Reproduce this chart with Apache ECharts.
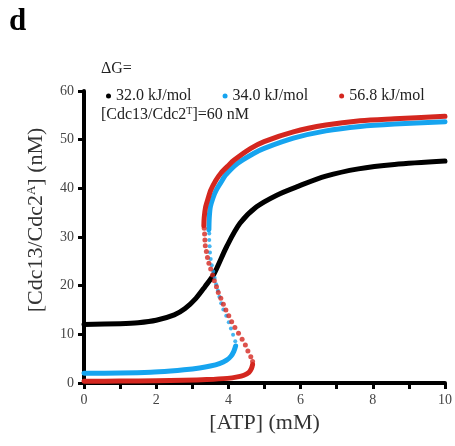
<!DOCTYPE html>
<html style="height:100%;width:100%;">

<head>
  <meta charset="utf-8">
  <title>Cdc13/Cdc2 vs ATP</title>
  <script src="https://cdn.jsdelivr.net/npm/echarts@6/dist/echarts.min.js"></script>
</head>

<body style="margin:0px;height:100%;width:100%;background:#fff;">
  <div id="main" style="width:455px;height:446px"></div>
  <script type="text/javascript" charset="utf-8">
    // legend names (dG values)
    var names = ['32.0 kJ/mol', '34.0 kJ/mol', '56.8 kJ/mol'];
    var colors = ['#000000', '#16a4ef', '#d4271f'];

    // dG = 32.0, single monotone curve  [ATP mM, Cdc13/Cdc2A nM]
    var black32 = [[0, 12.0], [1, 12.2], [1.5, 12.4], [2, 12.9], [2.5, 14.0], [2.8, 15.3], [3.1, 17.4],
      [3.35, 19.8], [3.6, 22.4], [3.95, 28.0], [4.32, 32.8], [4.78, 36.2], [5.34, 38.6],
      [5.89, 40.3], [6.7, 42.5], [7.6, 44.0], [8.6, 44.9], [10, 45.6]];

    // dG = 34.0: low stable, unstable (dots), high stable
    var blueLow = [[0, 2.0], [1, 2.05], [1.85, 2.2], [2.4, 2.45], [2.77, 2.7], [3.2, 3.1], [3.5, 3.5],
      [3.75, 4.0], [3.95, 4.7], [4.07, 5.5], [4.15, 6.5], [4.2, 7.6]];
    var blueMid = [[4.19, 8.6], [4.13, 9.9], [4.07, 11.2], [4.01, 12.5], [3.94, 13.8], [3.86, 15.1],
      [3.80, 16.4], [3.75, 17.7], [3.71, 19.0], [3.66, 20.3], [3.62, 21.6], [3.58, 22.9],
      [3.54, 24.2], [3.51, 25.5], [3.49, 26.8], [3.48, 28.1], [3.47, 29.4], [3.47, 30.7]];
    var blueHigh = [[3.46, 31.5], [3.47, 34.0], [3.50, 36.2], [3.57, 38.0], [3.66, 39.6], [3.8, 41.3],
      [3.92, 42.7], [4.25, 45.1], [4.71, 47.2], [4.99, 48.2], [5.8, 50.3], [6.7, 51.8],
      [7.65, 52.7], [8.6, 53.2], [10, 53.7]];

    // dG = 56.8: low stable, unstable (dots), high stable
    var redLow = [[0, 0.35], [1, 0.4], [2, 0.45], [2.77, 0.55], [3.4, 0.7], [3.97, 0.95], [4.25, 1.25],
      [4.43, 1.6], [4.57, 2.2], [4.64, 3.0], [4.67, 3.8]];
    var redMid = [[4.67, 4.4], [4.62, 5.4], [4.54, 6.6], [4.47, 7.8], [4.38, 9.0], [4.28, 10.2],
      [4.18, 11.4], [4.09, 12.6], [4.01, 13.8], [3.93, 15.0], [3.86, 16.2], [3.79, 17.4],
      [3.72, 18.6], [3.67, 19.8], [3.61, 21.0], [3.56, 22.2], [3.51, 23.4], [3.46, 24.6],
      [3.42, 25.8], [3.39, 27.0], [3.36, 28.2], [3.35, 29.4], [3.34, 30.6], [3.33, 31.8]];
    var redHigh = [[3.32, 32.3], [3.33, 34.0], [3.37, 36.2], [3.45, 38.2], [3.51, 39.6], [3.65, 41.6],
      [3.79, 43.1], [4.0, 44.7], [4.16, 45.8], [4.62, 48.2], [4.99, 49.6], [5.8, 51.6],
      [6.7, 53.0], [7.65, 53.9], [8.6, 54.3], [10, 54.8]];

    var serif = '"Liberation Serif", "DejaVu Serif", serif';
    var lineW = 5;

    function stable(name, color, data, z) {
      return {
        name: name,
        type: 'line',
        data: data,
        smooth: 0.3,
        showSymbol: false,
        symbol: 'none',
        z: z,
        color: color,
        lineStyle: { color: color, width: lineW, cap: 'round', join: 'round' },
        emphasis: { disabled: true },
        animation: false
      };
    }

    function unstable(name, color, data, size, z) {
      return {
        name: name,
        type: 'scatter',
        data: data,
        symbolSize: size,
        z: z,
        itemStyle: { color: color },
        emphasis: { disabled: true },
        animation: false
      };
    }

    // ticks start at the middle of the axis line, so length = half line + visible part
    var axisLineStyle = { show: true, onZero: false, lineStyle: { color: '#000', width: 4 } };
    var axisTickStyle = { show: true, length: 6, lineStyle: { color: '#000', width: 3 } };

    var myChart = echarts.init(document.getElementById('main'));

    var option = {
      backgroundColor: '#fff',
      animation: false,
      grid: { left: 84, right: 10, top: 91, bottom: 63 },
      legend: {
        data: names,
        left: 101,
        top: 83,
        icon: 'circle',
        itemWidth: 5,
        itemHeight: 5,
        itemGap: 31,
        selectedMode: false,
        textStyle: { fontFamily: serif, fontSize: 16, color: '#222' }
      },
      graphic: [
        { type: 'text', left: 9, top: 6, style: { text: 'd', font: 'bold 31px ' + serif, fill: '#000' } },
        { type: 'text', left: 101, top: 61, style: { text: '\u0394G=', font: '16px ' + serif, fill: '#222' } },
        {
          type: 'text', left: 101, top: 106,
          style: {
            text: '[Cdc13/Cdc2{sup|T}]=60 nM',
            font: '16px ' + serif,
            fill: '#222',
            rich: { sup: { fontSize: 10, fontFamily: serif, fill: '#222', padding: [0, 0, 8, 0] } }
          }
        }
      ],
      xAxis: {
        type: 'value',
        min: 0,
        max: 10,
        interval: 1,
        name: '[ATP] (mM)',
        nameLocation: 'middle',
        nameGap: 27,
        nameTextStyle: { fontFamily: serif, fontSize: 22, color: '#333' },
        axisLine: axisLineStyle,
        axisTick: axisTickStyle,
        axisLabel: {
          fontFamily: serif, fontSize: 14, color: '#444', margin: 10,
          formatter: function (v) { return v % 2 === 0 ? String(v) : ''; }
        },
        splitLine: { show: false }
      },
      yAxis: {
        type: 'value',
        min: 0,
        max: 60,
        interval: 10,
        name: '[Cdc13/Cdc2{sup|A}] (nM)',
        nameLocation: 'middle',
        nameGap: 36,
        nameTextStyle: {
          fontFamily: serif, fontSize: 22, color: '#333',
          padding: [0, 0, 0, 34],
          rich: { sup: { fontFamily: serif, fontSize: 13, color: '#333', padding: [0, 0, 10, 0] } }
        },
        axisLine: axisLineStyle,
        axisTick: axisTickStyle,
        axisLabel: { fontFamily: serif, fontSize: 14, color: '#444', margin: 10 },
        splitLine: { show: false }
      },
      series: [
        stable(names[0], colors[0], black32, 2),
        stable(names[1], colors[1], blueLow, 3),
        unstable(names[1], colors[1], blueMid, 4, 3),
        stable(names[1], colors[1], blueHigh, 3),
        stable(names[2], colors[2], redLow, 4),
        unstable(names[2], colors[2], redMid, 5, 4),
        stable(names[2], colors[2], redHigh, 4)
      ]
    };

    myChart.setOption(option, true);
  </script>
</body>

</html>
